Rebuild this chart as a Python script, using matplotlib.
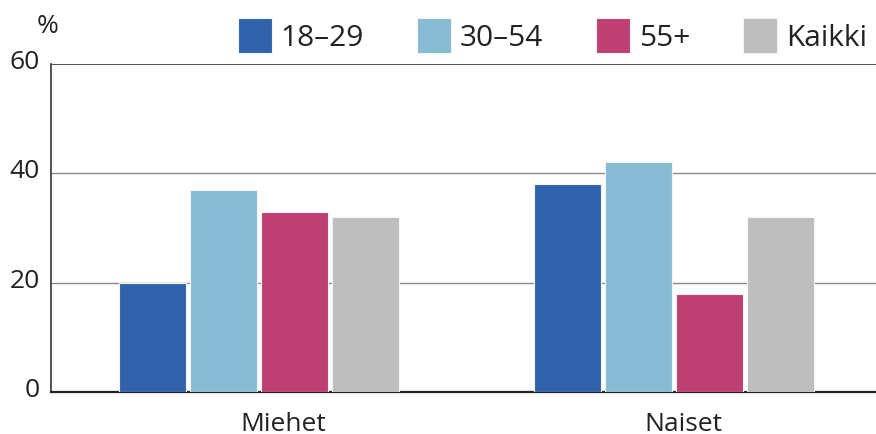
import numpy as np
import matplotlib.pyplot as plt
from matplotlib.transforms import ScaledTranslation

plt.rcParams['font.family'] = ['Open Sans', 'DejaVu Sans']

groups = ['Miehet', 'Naiset']
ages = ['18–29', '30–54', '55+', 'Kaikki']
values = {
    '18–29': [20, 38],
    '30–54': [37, 42],
    '55+': [33, 18],
    'Kaikki': [32, 32],
}
colors = ['#3063ab', '#86bbd3', '#be3f72', '#bebebe']
yticks = [0, 20, 40, 60]

fig = plt.figure(figsize=(8.76, 4.35), dpi=100)
ax = fig.add_axes([0.0582, 0.0966, 0.9418, 0.754])

x = np.arange(len(groups))
pitch = 0.171
width = 0.161
for i, age in enumerate(ages):
    ax.bar(x + (i - 1.5) * pitch, values[age], width, color=colors[i],
           edgecolor='#f4f4f4', linewidth=0.8, label=age, zorder=3)

ax.set_xlim(-0.501, 1.487)
ax.set_ylim(0, 60)
ax.set_yticks(yticks)
# group names sit a little right of the bar groups
ax.set_xticks(x + np.array([0.058, 0.022]))
ax.set_xticklabels(groups)
ax.tick_params(axis='both', length=0, labelsize=19, colors='#222222')
ax.tick_params(axis='y', pad=8)
ax.tick_params(axis='x', pad=13.5)
for lbl in ax.get_yticklabels():
    lbl.set_transform(lbl.get_transform() + ScaledTranslation(0, 4 / 72, fig.dpi_scale_trans))
for y in yticks[1:3]:
    ax.axhline(y, color='#8a8a8a', lw=1, zorder=1)
ax.axhline(60, color='#444444', lw=1.3, zorder=1)

for s in ['top', 'right']:
    ax.spines[s].set_visible(False)
ax.spines['left'].set_color('#444444')
ax.spines['left'].set_linewidth(1.3)
ax.spines['bottom'].set_color('#222222')
ax.spines['bottom'].set_linewidth(1.6)

fig.text(0.054, 0.938, '%', fontsize=19, ha='center', va='center', color='#222222')

ax.legend(loc='upper right', bbox_to_anchor=(1.007, 0.99), bbox_transform=fig.transFigure,
          ncol=4, frameon=False, fontsize=21.5, handlelength=1.14, handleheight=1.4,
          handletextpad=0.3, columnspacing=1.77, borderpad=0, labelcolor='#222222')

fig.savefig('out.png', dpi=100)
